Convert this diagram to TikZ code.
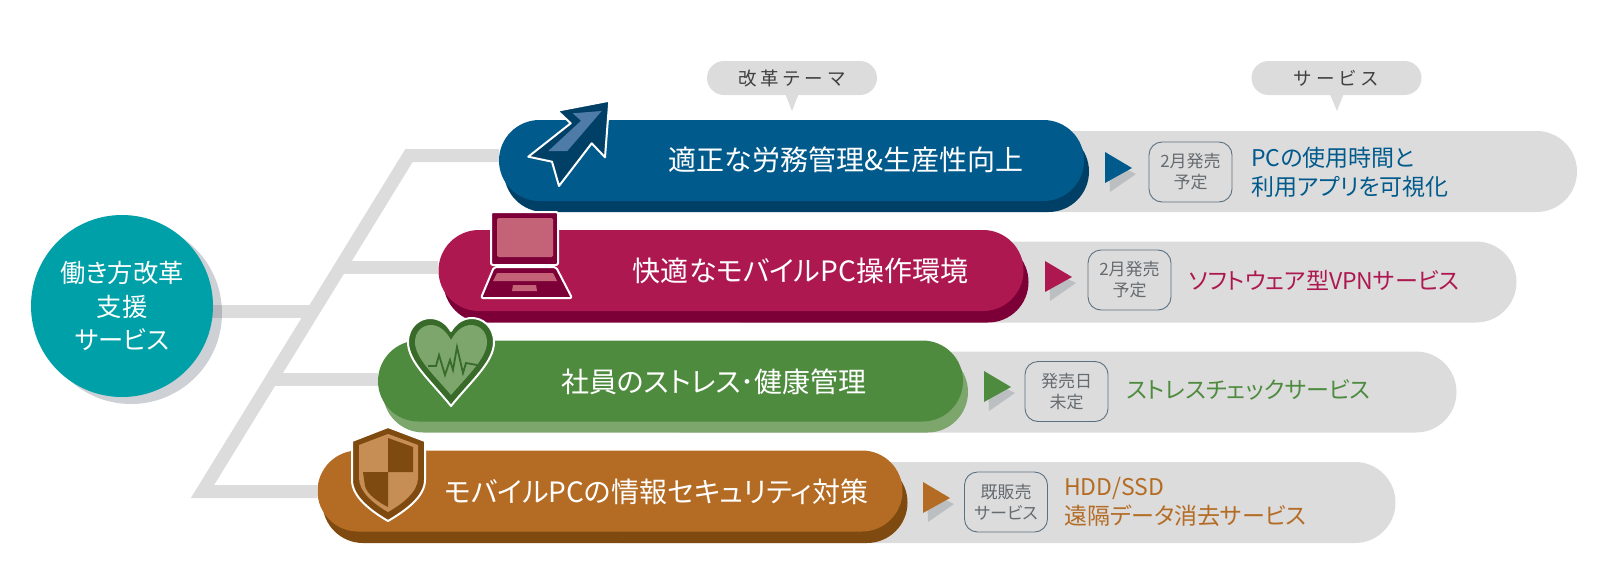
\documentclass[tikz,border=0pt]{standalone}
\usepackage{fontspec}
\setmainfont{Noto Sans CJK JP}[RawFeature=+palt]
\newfontfamily\widejp{Noto Sans CJK JP}[LetterSpace=20]
\usepackage{xcolor}
\usetikzlibrary{shapes.misc, backgrounds}

\definecolor{blueA}{HTML}{015A8C}
\definecolor{blueB}{HTML}{003F66}
\definecolor{blueC}{HTML}{4F7BA8}
\definecolor{redA}{HTML}{AE1850}
\definecolor{redB}{HTML}{7C0037}
\definecolor{redC}{HTML}{C46278}
\definecolor{greenA}{HTML}{4E8B3E}
\definecolor{greenB}{HTML}{7CA66B}
\definecolor{greenC}{HTML}{386B2A}
\definecolor{brownA}{HTML}{B46C25}
\definecolor{brownB}{HTML}{7F4A10}
\definecolor{brownC}{HTML}{C68D55}
\definecolor{tealA}{HTML}{00A0A8}
\definecolor{trackgrey}{HTML}{DCDCDC}
\definecolor{boxline}{HTML}{5A7080}
\definecolor{boxtext}{HTML}{666B70}
\definecolor{shadowgrey}{HTML}{586270}
\definecolor{tipgrey}{HTML}{BBBFC2}

\tikzset{
  pill/.style={rounded rectangle, minimum width=585, minimum height=81, inner sep=0pt},
  track/.style={rounded rectangle, rounded rectangle left arc=none, fill=trackgrey, minimum width=777, minimum height=81, inner sep=0pt},
  barlabel/.style={text=white, font=\fontsize{28}{32}\selectfont},
  datebox/.style={draw=boxline, line width=0.9pt, rounded corners=13pt, minimum width=83, minimum height=60, inner sep=0pt, align=center, text=boxtext, font=\fontsize{17}{21}\selectfont},
  svclabel/.style={anchor=west, align=left, inner sep=0pt, font=\fontsize{23}{29}\selectfont},
  bubble/.style={rounded rectangle, fill=trackgrey, minimum width=170, minimum height=34, inner sep=0pt, text=black!75, font=\fontsize{18.5}{20}\widejp},
  branch/.style={draw=trackgrey, line width=13pt, miter limit=20},
  tipshadow/.style={fill=tipgrey},
  icon/.style={draw=white, line width=2pt, line join=round}
}

\begin{document}
\begin{tikzpicture}[x=1pt, y=-1pt]
\useasboundingbox (0,0) rectangle (1600,568);

% Trunk coordinates
\coordinate (trunkTop) at (409,155.5);
\coordinate (trunkBot) at (202.5,491.5);
\coordinate (trunkB) at (340,267.5);
\coordinate (trunkC) at (271,379.5);
\coordinate (trunkH) at (313,311.5);

% Hub
\node[circle, fill=tealA, minimum size=182, inner sep=0pt, align=center, text=white,
      font=\fontsize{25.3}{33.5}\selectfont] (hub) at (122,306) {働き方改革\\支援\\サービス};

% Grey tracks
\node[track] (trackA) at (1188.5,171.5) {};
\node[track] (trackB) at (1128,282) {};
\node[track] (trackC) at (1068,392) {};
\node[track] (trackD) at (1007,502.5) {};

% Dark pills
\node[pill, fill=blueB] (darkA) at (796.5,171.5) {};
\node[pill, fill=redB] (darkB) at (736,282) {};
\node[pill, fill=greenB] (darkC) at (675.5,392) {};
\node[pill, fill=brownB] (darkD) at (615,502.5) {};

% Main pills
\node[pill, fill=blueA] (barA) at (791.5,160.5) {};
\node[pill, fill=redA] (barB) at (731,270.5) {};
\node[pill, fill=greenA] (barC) at (670.5,381) {};
\node[pill, fill=brownA] (barD) at (610,491) {};

% Tree
\draw[branch] (trunkTop -| barA.west) -- (trunkTop) -- (trunkBot) -- (trunkBot -| barD.west);
\draw[branch] (trunkB) -- (trunkB -| barB.west);
\draw[branch] (trunkC) -- (trunkC -| barC.west);
\begin{pgfonlayer}{background}
\draw[branch] (trunkH -| hub.center) -- (trunkH);
\fill[shadowgrey, opacity=0.3] (131,313) circle (91);
\end{pgfonlayer}

% Bar labels
\node[barlabel] (labelA) at (846,160) {適正な労務管理\&生産性向上};
\node[barlabel] (labelB) at (800.5,270.5) {快適なモバイルPC操作環境};
\node[barlabel] (labelC) at (714,381.5) {社員のストレス･健康管理};
\node[barlabel] (labelD) at (656.5,492) {モバイルPCの情報セキュリティ対策};

% Triangles
\fill[tipshadow] (1109,161) -- (1136,174) -- (1110,192) -- cycle;
\fill[blueA] (1105,152) -- (1132,168) -- (1105,183) -- cycle;
\fill[tipshadow] (1049,270) -- (1076,283) -- (1050,301) -- cycle;
\fill[redA] (1045,261) -- (1072,277) -- (1045,292) -- cycle;
\fill[tipshadow] (988,380) -- (1015,393) -- (989,411) -- cycle;
\fill[greenA] (984,371) -- (1011,387) -- (984,402) -- cycle;
\fill[tipshadow] (927,491) -- (954,504) -- (928,522) -- cycle;
\fill[brownA] (923,482) -- (950,498) -- (923,513) -- cycle;

% Date boxes
\node[datebox] (boxA) at (1190.5,172) {2月発売\\予定};
\node[datebox] (boxB) at (1129.5,280) {2月発売\\予定};
\node[datebox] (boxC) at (1066.5,391.5) {発売日\\未定};
\node[datebox] (boxD) at (1006,502) {既販売\\サービス};

% Service labels
\node[svclabel, text=blueA] (svcA) at (1251,172) {PCの使用時間と\\利用アプリを可視化};
\node[svclabel, text=redA] (svcB) at (1189,280.5) {ソフトウェア型VPNサービス};
\node[svclabel, text=greenA] (svcC) at (1126.5,390) {ストレスチェックサービス};
\node[svclabel, text=brownA] (svcD) at (1064,502) {HDD/SSD\\遠隔データ消去サービス};

% Bubbles
\node[bubble] (bubbleA) at (792,78) {改革テーマ};
\node[bubble] (bubbleB) at (1336.5,78) {サービス};
\coordinate (tipA) at (792,111);
\coordinate (tipB) at (1337,111);
\fill[trackgrey] (bubbleA.south) ++(-7,-2) -- (tipA) -- ++(7,-18) -- cycle;
\fill[trackgrey] (bubbleB.south) ++(-7,-2) -- (tipB) -- ++(7,-18) -- cycle;

% Arrow icon
\draw[icon, fill=blueB] (609.3,100.7) -- (557.3,110.7) -- (570.7,123.3) -- (528.3,156.7) -- (552,161.7) -- (559,186) -- (591.7,143.3) -- (605,157.3) -- cycle;
\fill[blueC] (601.7,111) -- (572.7,113.3) -- (581,120.7) -- (548.3,151) -- (567.3,151) -- cycle;

% Laptop icon
\draw[icon, fill=redB, rounded corners=2pt] (491,212) rectangle (558,265);
\fill[redC, rounded corners=1.5pt] (497,218) rectangle (553,257);
\draw[icon, fill=redB, rounded corners=2pt] (494,267) -- (556,267) -- (572,298) -- (481,298) -- cycle;
\fill[redC] (497,273) -- (553,273) -- (557,281) -- (493,281) -- cycle;
\fill[redC] (513,285) -- (536,285) -- (537,291) -- (512,291) -- cycle;

% Heart icon
\draw[icon, fill=greenC] (451,406) .. controls (430,380) and (408,362) .. (408,342) .. controls (408,326) and (420,318) .. (430,318) .. controls (440,318) and (447,324) .. (451,331) .. controls (455,324) and (462,318) .. (472,318) .. controls (482,318) and (494,326) .. (494,342) .. controls (494,362) and (472,380) .. (451,406) -- cycle;
\fill[greenB] (451,395) .. controls (434,375) and (415,358) .. (415,342) .. controls (415,331) and (423,325) .. (431,325) .. controls (439,325) and (446,331) .. (451,340) .. controls (456,331) and (463,325) .. (471,325) .. controls (479,325) and (487,331) .. (487,342) .. controls (487,358) and (468,375) .. (451,395) -- cycle;
\draw[greenC, line width=1.8pt] (428,366) -- (436,366) -- (439,355) -- (445,375) -- (450,360) -- (453,370) -- (457,347) -- (463,373) -- (466,363) -- (477,365);

% Shield icon
\draw[icon, fill=brownB] (388,427) -- (425,441) -- (425,480) .. controls (425,497) and (405,511) .. (388,521) .. controls (371,511) and (352,497) .. (352,480) -- (352,441) -- cycle;
\fill[brownC] (388,434) -- (418,445) -- (418,478) .. controls (418,492) and (402,504) .. (388,512) .. controls (374,504) and (359,492) .. (359,478) -- (359,445) -- cycle;
\fill[brownB] (388,438) -- (413,447) -- (413,472) -- (388,472) -- cycle;
\fill[brownB] (363,472) -- (388,472) -- (388,507) .. controls (378,502) and (367,494) .. (365,486) -- cycle;
\end{tikzpicture}
\end{document}
